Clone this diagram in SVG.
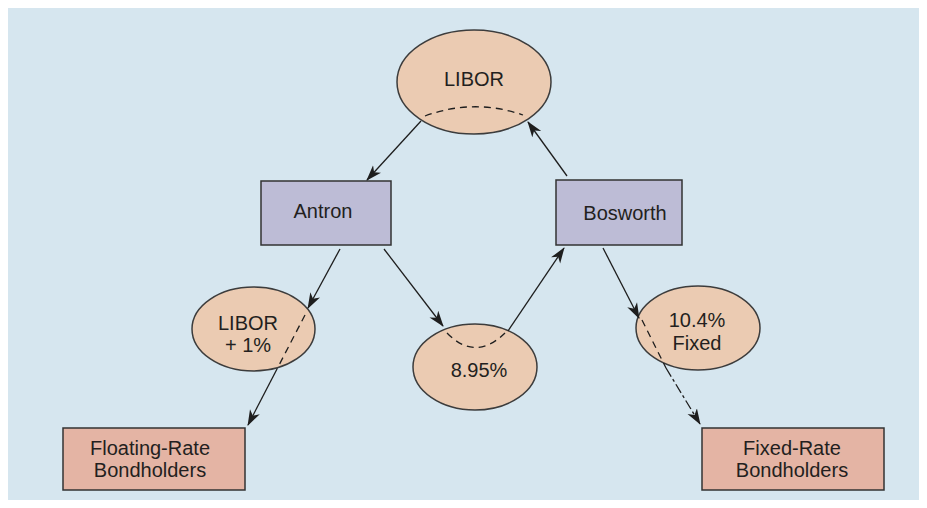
<svg xmlns="http://www.w3.org/2000/svg" width="927" height="508" viewBox="0 0 927 508">
<defs>
<marker id="ah" markerWidth="16" markerHeight="12" refX="15" refY="6" orient="auto" markerUnits="userSpaceOnUse">
<path d="M0,0.5 L16,6 L0,11.5 L4.5,6 Z" fill="#1e1e1e"/>
</marker>
<style>
.bg{fill:#d6e6ef}
.ell{fill:#ebcbb2;stroke:#3c3c3c;stroke-width:1.5}
.box{fill:#bdbcd6;stroke:#333;stroke-width:1.5}
.bond{fill:#e4b4a4;stroke:#333;stroke-width:1.5}
.t{font-family:"Liberation Sans",Arial,sans-serif;font-size:20px;fill:#231f20;text-anchor:middle}
.c{fill:none;stroke:#1e1e1e;stroke-width:1.3}
.d{fill:none;stroke:#1e1e1e;stroke-width:1.3;stroke-dasharray:7,5}
</style>
</defs>
<rect class="bg" x="8" y="8" width="911" height="492"/>
<g id="libor">
<ellipse class="ell" cx="474" cy="82" rx="77" ry="52"/>
<text class="t" x="474" y="86">LIBOR</text>
<path class="d" d="M425,116 Q474,98 523,115"/>
</g>
<g id="antron">
<rect class="box" x="261" y="181" width="130" height="64"/>
<text class="t" x="323" y="218">Antron</text>
</g>
<g id="bosworth">
<rect class="box" x="556" y="180" width="126" height="65"/>
<text class="t" x="625" y="220">Bosworth</text>
</g>
<g id="libor1">
<ellipse class="ell" cx="253.5" cy="329" rx="61.5" ry="42"/>
<text class="t" x="248" y="330">LIBOR</text>
<text class="t" x="248" y="352">+ 1%</text>
</g>
<g id="rate895">
<ellipse class="ell" cx="475" cy="367" rx="62" ry="43"/>
<text class="t" x="479" y="377">8.95%</text>
<path class="d" d="M447,333 Q475,362 505,333"/>
</g>
<g id="fixed104">
<ellipse class="ell" cx="698" cy="328" rx="62" ry="42"/>
<text class="t" x="697" y="327">10.4%</text>
<text class="t" x="697" y="350">Fixed</text>
</g>
<g id="floating">
<rect class="bond" x="63" y="428" width="182" height="62"/>
<text class="t" x="150" y="455">Floating-Rate</text>
<text class="t" x="150" y="477">Bondholders</text>
</g>
<g id="fixedrate">
<rect class="bond" x="702" y="428" width="182" height="62"/>
<text class="t" x="792" y="455">Fixed-Rate</text>
<text class="t" x="792" y="477">Bondholders</text>
</g>
<g id="connectors">
<line class="c" x1="421" y1="121" x2="367" y2="180" marker-end="url(#ah)"/>
<line class="c" x1="567" y1="176" x2="528" y2="122" marker-end="url(#ah)"/>
<line class="c" x1="340" y1="249" x2="308" y2="308" marker-end="url(#ah)"/>
<line class="c" x1="384" y1="249" x2="443" y2="326" marker-end="url(#ah)"/>
<line class="c" x1="508" y1="331" x2="564" y2="248" marker-end="url(#ah)"/>
<line class="c" x1="603" y1="248" x2="639" y2="318" marker-end="url(#ah)"/>
<line class="d" x1="305" y1="315" x2="277" y2="369"/>
<line class="c" x1="277" y1="369" x2="248" y2="425" marker-end="url(#ah)"/>
<line class="d" x1="642" y1="320" x2="666" y2="368"/>
<line class="c" x1="666" y1="368" x2="700" y2="424" stroke-dasharray="10,3,3,3" marker-end="url(#ah)"/>
</g>
</svg>
